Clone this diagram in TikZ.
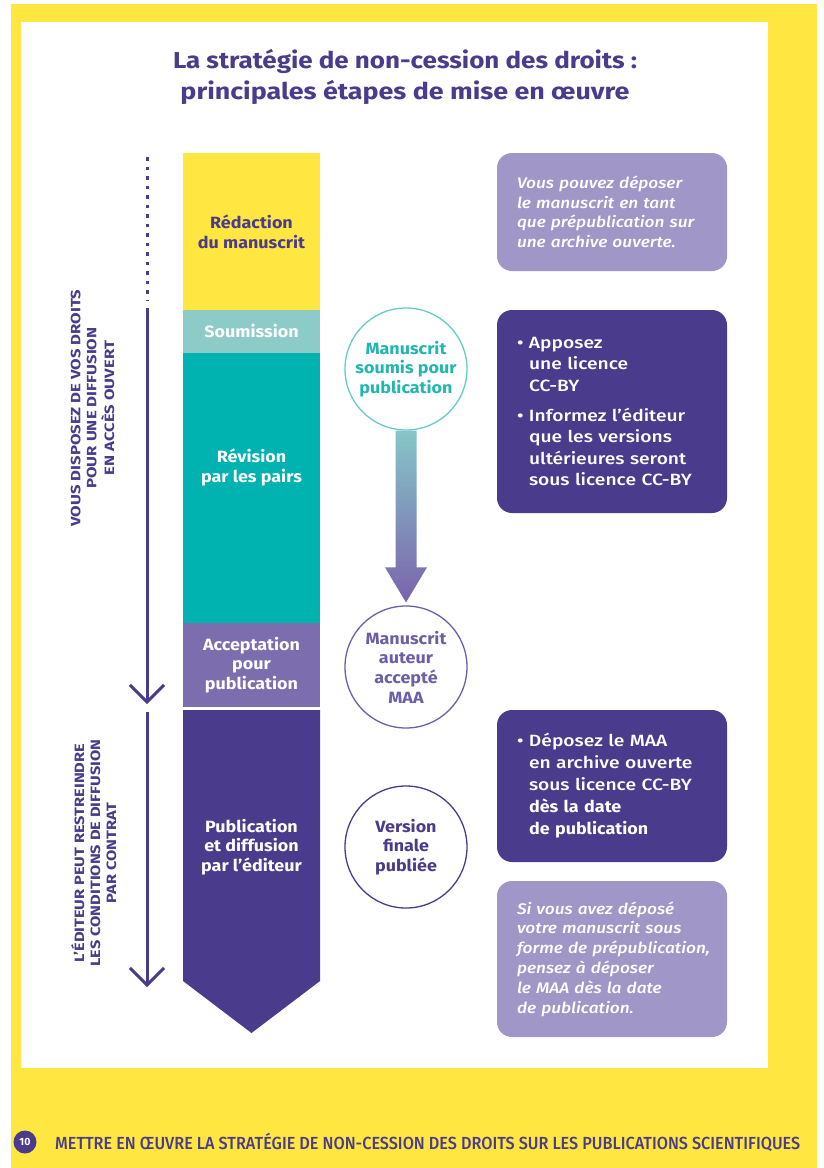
\documentclass[tikz,border=0pt]{standalone}
\usepackage{fontspec}
\setmainfont{Fira Sans}
\newfontfamily\fmed{Fira Sans Medium}
\newfontfamily\fwide{Fira Sans}[FakeStretch=1.1]
\newfontfamily\fmedw{Fira Sans Medium}[FakeStretch=1.18]
\newfontfamily\fmedi{Fira Sans Medium Italic}[FakeStretch=1.13]
\usetikzlibrary{arrows.meta,calc}
\definecolor{yel}{HTML}{FFE640}
\definecolor{dpurple}{HTML}{4A3B8C}
\definecolor{lpurple}{HTML}{A196C8}
\definecolor{mpurple}{HTML}{7B6DAE}
\definecolor{cpurple}{HTML}{6D5EA9}
\definecolor{tealA}{HTML}{00B3B0}
\definecolor{ltealA}{HTML}{8DCBC9}
\definecolor{cteal}{HTML}{22B6B1}
\definecolor{ateal}{HTML}{86C6C8}
\definecolor{apurple}{HTML}{7A63AD}
\tikzset{
  blk/.style={minimum width=137pt, inner sep=0pt, outer sep=0pt, align=center, font=\fwide\fontsize{16.3}{19.7}\selectfont\bfseries},
  circ/.style={circle, minimum size=122pt, inner sep=0pt, line width=1.3pt, fill=white, align=center, font=\fwide\fontsize{16.3}{19.7}\selectfont\bfseries},
  rbox/.style={rounded corners=15pt, minimum width=230pt, inner sep=0pt, text width=190pt, align=left, text=white},
  sidetxt/.style={rotate=90, text=dpurple, inner sep=0pt, font=\fontsize{13.5}{16}\selectfont\bfseries},
  leftline/.style={dpurple, line width=3pt},
  chev/.style={-{Straight Barb[length=17pt,width=34pt,line width=3pt]}},
}
\begin{document}
\begin{tikzpicture}[x=1pt,y=-1pt]
\useasboundingbox (0,0) rectangle (823,1168);
\fill[white] (0,0) rectangle (823,1168);
\fill[yel] (11,4) rectangle (817,1168);
\fill[white] (21,22) rectangle (768,1068);

% title
\node[text=dpurple, align=center, inner sep=0pt, font=\fontsize{23}{31}\selectfont\bfseries] (title) at (405,77)
  {\resizebox{464pt}{\height}{La stratégie de non-cession des droits :}\\\resizebox{449pt}{\height}{principales étapes de mise en œuvre}};

% column
\node[blk, fill=yel, minimum height=157pt, text=dpurple] (red) at (251.5,231.5) {Rédaction\\du manuscrit};
\node[blk, fill=ltealA, minimum height=43pt, text=white] (sou) at (251.5,331.5) {Soumission};
\node[blk, fill=tealA, minimum height=270pt] (rev) at (251.5,488) {};
\node[blk, text=white] (revt) at (251.5,467.5) {Révision\\par les pairs};
\node[blk, fill=mpurple, minimum height=84pt, text=white] (acc) at (251.5,665) {Acceptation\\pour\\publication};
\fill[dpurple] (183,710) -- (320,710) -- (320,981) -- (251.5,1033) -- (183,981) -- cycle;
\node[blk, text=white] (pub) at (251.5,847) {Publication\\et diffusion\\par l’éditeur};

% left arrows
\coordinate (d1) at (147,157);
\coordinate (d2) at (147,300);
\coordinate (a1s) at (147,308);
\coordinate (a1e) at (147,704);
\coordinate (a2s) at (147,712);
\coordinate (a2e) at (147,987);
\draw[leftline, dash pattern=on 3.5pt off 6pt] (d1) -- (d2);
\draw[leftline, chev] (a1s) -- (a1e);
\draw[leftline, chev] (a2s) -- (a2e);

\node[sidetxt] (s1) at (94,408) {\resizebox{237pt}{\height}{\begin{tabular}{@{}c@{}}VOUS DISPOSEZ DE VOS DROITS\\POUR UNE DIFFUSION\\EN ACCÈS OUVERT\end{tabular}}};
\node[sidetxt] (s2) at (96,853) {\resizebox{227pt}{\height}{\begin{tabular}{@{}c@{}}L’ÉDITEUR PEUT RESTREINDRE\\LES CONDITIONS DE DIFFUSION\\PAR CONTRAT\end{tabular}}};

% circles
\node[circ, draw=cteal!70, text=cteal] (c1) at (406,369) {Manuscrit\\soumis pour\\publication};
\node[circ, draw=cpurple, text=cpurple] (c2) at (406,667) {Manuscrit\\auteur\\accepté\\MAA};
\node[circ, draw=dpurple, text=dpurple] (c3) at (406,847) {Version\\finale\\publiée};
\shade[top color=ateal, bottom color=apurple]
  ($(c1.south)+(-10.5,0)$) -- ($(c1.south)+(10.5,0)$) -- ($(c2.north)+(10.5,-38)$) -- ($(c2.north)+(21,-38)$)
  -- ($(c2.north)+(0,-3)$) -- ($(c2.north)+(-21,-38)$) -- ($(c2.north)+(-10.5,-38)$) -- cycle;

% right boxes
\node[rbox, fill=lpurple, minimum height=118pt, font=\fmedi\fontsize{15.3}{19.5}\selectfont] (b1) at (612,212)
  {Vous pouvez déposer\\le manuscrit en tant\\que prépublication sur\\une archive ouverte.};
\node[rbox, fill=dpurple, minimum height=203pt, font=\fmedw\fontsize{16.3}{21.5}\selectfont] (b2) at (612,411.5)
  {\makebox[12pt][l]{•}Apposez\\\hspace*{12pt}une licence\\\hspace*{12pt}CC-BY\\[8.5pt]\makebox[12pt][l]{•}Informez l’éditeur\\\hspace*{12pt}que les versions\\\hspace*{12pt}ultérieures seront\\\hspace*{12pt}\mbox{sous licence CC-BY}};
\node[rbox, fill=dpurple, minimum height=152pt, font=\fmedw\fontsize{16.3}{22}\selectfont] (b3) at (612,786)
  {\makebox[12pt][l]{•}Déposez le MAA\\\hspace*{12pt}en archive ouverte\\\hspace*{12pt}\mbox{sous licence CC-BY}\\\hspace*{12pt}{\fwide\bfseries dès la date}\\\hspace*{12pt}{\fwide\bfseries de publication}};
\node[rbox, fill=lpurple, minimum height=156pt, font=\fmedi\fontsize{15.3}{19.8}\selectfont] (b4) at (612,959)
  {Si vous avez déposé\\votre manuscrit sous\\\mbox{forme de prépublication,}\\pensez à déposer\\le MAA dès la date\\de publication.};

% footer
\node[circle, fill=dpurple, minimum size=23pt, inner sep=0pt, text=white, font=\fontsize{10.5}{10.5}\selectfont\bfseries] (pg) at (25,1142) {10};
\node[anchor=west, inner sep=0pt, text=dpurple, font=\fmed\fontsize{17.5}{18}\selectfont] (foot) at (55,1142)
  {\resizebox{745pt}{\height}{METTRE EN ŒUVRE LA STRATÉGIE DE NON-CESSION DES DROITS SUR LES PUBLICATIONS SCIENTIFIQUES}};
\end{tikzpicture}
\end{document}
